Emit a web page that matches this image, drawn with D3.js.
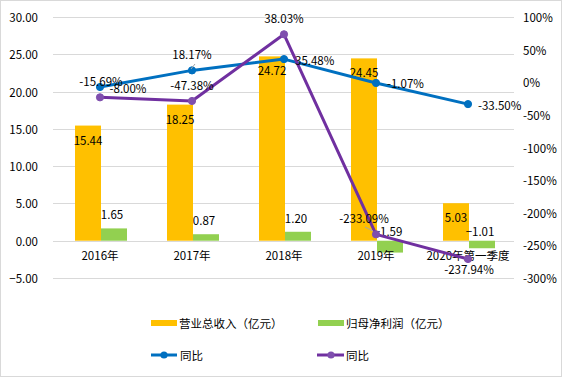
<!DOCTYPE html>
<html><head><meta charset="utf-8">
<script src="https://cdn.jsdelivr.net/npm/d3@7"></script>
<style>
body{margin:0;background:#fff}
svg text{font-family:"Noto Sans CJK SC","DejaVu Sans",sans-serif;font-size:11.5px;fill:#000}
</style></head>
<body><svg id="c" width="563" height="378"></svg>
<script>
const categories=["2016年","2017年","2018年","2019年","2020年第一季度"];
const revenue=[15.44,18.25,24.72,24.45,5.03];
const profit=[1.65,0.87,1.20,-1.59,-1.01];
const revYoY=[-7.3,18.17,35.48,-1.07,-33.50];
const revYoYLabels=["-15.69%","18.17%","35.48%","-1.07%","-33.50%"];
const profYoY=[-23.1,-28.7,73.5,-233.09,-270.9];
const profYoYLabels=["-8.00%","-47.38%","38.03%","-233.09%","-237.94%"];
const leftTicks=[30,25,20,15,10,5,0,-5];
const rightTicks=[100,50,0,-50,-100,-150,-200,-250,-300];
const legendNames=["营业总收入（亿元）","归母净利润（亿元）","同比","同比"];

// label offsets (layout only)
const blueOff=[[1,-6,"middle"],[0,-16,"middle"],[11,1,"start"],[11,0,"start"],[10,1,"start"]];
const purpOff=[[28,-9,"middle"],[0,-16,"middle"],[0,-16,"middle"],[-12,-16,"middle"],[1,10,"middle"]];

const svg=d3.select("#c");
const W=563,H=378;
const C={rev:"#ffc000",prof:"#92d050",blue:"#0070c0",purp:"#7030a0",purpM:"#7f4fae",grid:"#d9d9d9"};

svg.append("rect").attr("x",0.5).attr("y",0.5).attr("width",561).attr("height",376)
  .attr("fill","#fff").attr("stroke",C.grid);

const x=d3.scaleBand().domain(categories).range([54,514]);
const yL=d3.scaleLinear().domain([-5,30]).range([278,17]);
const yR=d3.scaleLinear().domain([-300,100]).range([278,17]);
const cx=d=>x(d)+x.bandwidth()/2;
const bw=26;

// gridlines
svg.append("g").selectAll("line").data(leftTicks).join("line")
  .attr("x1",53).attr("x2",514).attr("y1",d=>Math.round(yL(d))+0.5).attr("y2",d=>Math.round(yL(d))+0.5)
  .attr("stroke",C.grid).attr("stroke-width",1);

// left axis labels
const fmt=d3.format(".2f");
svg.append("g").selectAll("text").data(leftTicks).join("text")
  .attr("x",38).attr("y",d=>yL(d)).attr("text-anchor","end").attr("dominant-baseline","central")
  .text(d=>fmt(d));
// right axis labels
svg.append("g").selectAll("text").data(rightTicks).join("text")
  .attr("x",523).attr("y",d=>yR(d)).attr("text-anchor","start").attr("dominant-baseline","central")
  .text(d=>d+"%");

// bars
svg.append("g").selectAll("rect").data(revenue).join("rect")
  .attr("x",(d,i)=>cx(categories[i])-bw+1).attr("width",bw)
  .attr("y",d=>yL(Math.max(0,d))).attr("height",d=>Math.abs(yL(d)-yL(0)))
  .attr("fill",C.rev);
svg.append("g").selectAll("rect").data(profit).join("rect")
  .attr("x",(d,i)=>cx(categories[i])+1).attr("width",bw)
  .attr("y",d=>yL(Math.max(0,d))).attr("height",d=>Math.abs(yL(d)-yL(0)))
  .attr("fill",C.prof);

// x labels
svg.append("g").selectAll("text").data(categories).join("text")
  .attr("x",d=>cx(d)).attr("y",255).attr("text-anchor","middle").attr("dominant-baseline","central")
  .text(d=>d);

// bar labels
svg.append("g").selectAll("text").data(revenue).join("text")
  .attr("x",(d,i)=>cx(categories[i])-bw/2+1).attr("y",d=>yL(d)+14)
  .attr("text-anchor","middle").attr("dominant-baseline","central").text(d=>fmt(d));
svg.append("g").selectAll("text").data(profit).join("text")
  .attr("x",(d,i)=>cx(categories[i])+bw/2-1).attr("y",d=>d>=0?yL(d)-14:yL(0)-10)
  .attr("text-anchor","middle").attr("dominant-baseline","central").text(d=>fmt(d));

// lines
function drawLine(vals,color,mcolor){
  const pts=vals.map((v,i)=>[cx(categories[i]),yR(v)]);
  svg.append("path").attr("d",d3.line()(pts)).attr("fill","none")
    .attr("stroke",color).attr("stroke-width",3).attr("stroke-linejoin","round").attr("stroke-linecap","round");
  svg.append("g").selectAll("circle").data(pts).join("circle")
    .attr("cx",d=>d[0]).attr("cy",d=>d[1]).attr("r",3.6).attr("fill",mcolor).attr("stroke",mcolor);
  return pts;
}
const bp=drawLine(revYoY,C.blue,C.blue);
const pp=drawLine(profYoY,C.purp,C.purpM);

// leader lines
svg.append("line").attr("x1",191).attr("y1",69).attr("x2",195).attr("y2",64).attr("stroke","#a6a6a6").attr("stroke-width",1);
svg.append("line").attr("x1",365).attr("y1",227).attr("x2",373).attr("y2",231).attr("stroke","#a6a6a6").attr("stroke-width",1);

// line labels
svg.append("g").selectAll("text").data(revYoYLabels).join("text")
  .attr("x",(d,i)=>bp[i][0]+blueOff[i][0]).attr("y",(d,i)=>bp[i][1]+blueOff[i][1])
  .attr("text-anchor",(d,i)=>blueOff[i][2]).attr("dominant-baseline","central").text(d=>d);
svg.append("g").selectAll("text").data(profYoYLabels).join("text")
  .attr("x",(d,i)=>pp[i][0]+purpOff[i][0]).attr("y",(d,i)=>pp[i][1]+purpOff[i][1])
  .attr("text-anchor",(d,i)=>purpOff[i][2]).attr("dominant-baseline","central").text(d=>d);

// legend
const lg=svg.append("g");
lg.append("rect").attr("x",151).attr("y",320).attr("width",26).attr("height",6).attr("fill",C.rev);
lg.append("text").attr("x",179).attr("y",323).attr("dominant-baseline","central").text(legendNames[0]);
lg.append("rect").attr("x",318).attr("y",320).attr("width",26).attr("height",6).attr("fill",C.prof);
lg.append("text").attr("x",346).attr("y",323).attr("dominant-baseline","central").text(legendNames[1]);
lg.append("line").attr("x1",151).attr("x2",177).attr("y1",355).attr("y2",355).attr("stroke",C.blue).attr("stroke-width",3);
lg.append("circle").attr("cx",164).attr("cy",355).attr("r",3.6).attr("fill",C.blue);
lg.append("text").attr("x",180).attr("y",355).attr("dominant-baseline","central").text(legendNames[2]);
lg.append("line").attr("x1",317).attr("x2",344).attr("y1",355).attr("y2",355).attr("stroke",C.purp).attr("stroke-width",3);
lg.append("circle").attr("cx",331).attr("cy",355).attr("r",3.6).attr("fill",C.purpM);
lg.append("text").attr("x",346).attr("y",355).attr("dominant-baseline","central").text(legendNames[3]);
</script></body></html>
